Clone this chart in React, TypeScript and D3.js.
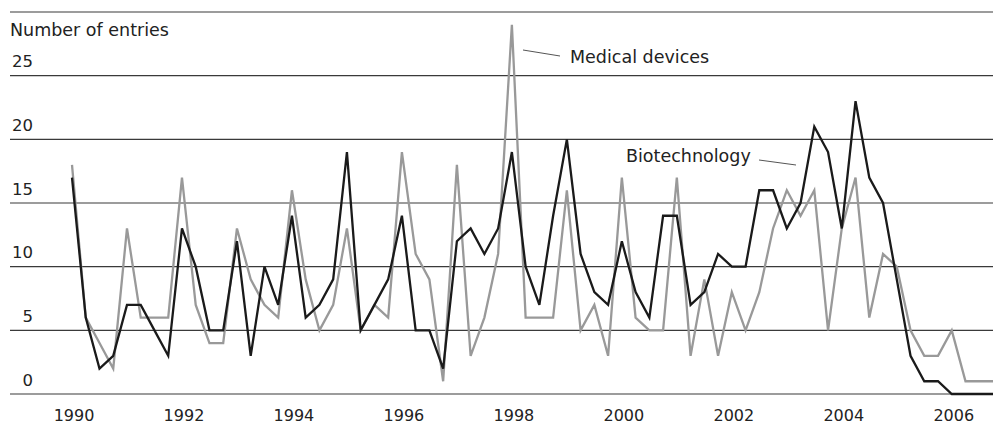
import React, { useRef, useEffect } from "react";
import { select, scaleLinear, line } from "d3";

// quarterly counts, 1990 Q1 .. 2006 Q4
const biotechnology = [
  17, 6, 2, 3, 7, 7, 5, 3, 13, 10, 5, 5, 12, 3, 10, 7, 14, 6, 7, 9,
  19, 5, 7, 9, 14, 5, 5, 2, 12, 13, 11, 13, 19, 10, 7, 14, 20, 11, 8, 7, 12, 8, 6, 14,
  14, 7, 8, 11, 10, 10, 16, 16, 13, 15, 21, 19, 13, 23, 17, 15, 9, 3, 1, 1, 0, 0, 0, 0,
];
const medicalDevices = [
  18, 6, 4, 2, 13, 6, 6, 6, 17, 7, 4, 4, 13, 9, 7, 6, 16, 9, 5, 7,
  13, 5, 7, 6, 19, 11, 9, 1, 18, 3, 6, 11, 29, 6, 6, 6, 16, 5, 7, 3, 17, 6, 5, 5,
  17, 3, 9, 3, 8, 5, 8, 13, 16, 14, 16, 5, 13, 17, 6, 11, 10, 5, 3, 3, 5, 1, 1, 1,
];
const yearTicks = [1990, 1992, 1994, 1996, 1998, 2000, 2002, 2004, 2006];
const gridValues = [0, 5, 10, 15, 20, 25, 30];
const yLabels = [0, 5, 10, 15, 20, 25];
const startYear = 1990;

const W = 1003;
const H = 428;
const font = "'DejaVu Sans', Verdana, sans-serif";

function EntriesChart() {
  const svgRef = useRef<SVGSVGElement>(null);

  useEffect(() => {
    const svg = select(svgRef.current);
    svg.selectAll("*").remove();

    const n = biotechnology.length;
    const xScale = scaleLinear()
      .domain([startYear, startYear + (n - 1) / 4])
      .range([72, 993]);
    const yScale = scaleLinear().domain([0, 30]).range([394, 12]);

    const quarterYear = (i: number) => startYear + i / 4;

    // horizontal rules
    svg
      .selectAll(".grid")
      .data(gridValues)
      .join("line")
      .attr("class", "grid")
      .attr("x1", 10)
      .attr("x2", 993)
      .attr("y1", (d) => yScale(d))
      .attr("y2", (d) => yScale(d))
      .attr("stroke", "#3a3a3a")
      .attr("stroke-width", 1.2);

    // y labels sit just above their rule
    svg
      .selectAll(".ylab")
      .data(yLabels)
      .join("text")
      .attr("class", "ylab")
      .attr("x", 33)
      .attr("y", (d) => yScale(d) - 8.5)
      .attr("text-anchor", "end")
      .attr("font-family", font)
      .attr("font-size", 16.5)
      .attr("fill", "#222")
      .text((d) => d);

    svg
      .append("text")
      .attr("x", 10)
      .attr("y", 35.5)
      .attr("font-family", font)
      .attr("font-size", 17.5)
      .attr("fill", "#222")
      .text("Number of entries");

    // x labels
    svg
      .selectAll(".xlab")
      .data(yearTicks)
      .join("text")
      .attr("class", "xlab")
      .attr("x", (d) => xScale(d) + 2)
      .attr("y", 420.5)
      .attr("text-anchor", "middle")
      .attr("font-family", font)
      .attr("font-size", 16)
      .attr("fill", "#222")
      .text((d) => d);

    const lineGenerator = line<number>()
      .x((d, i) => xScale(quarterYear(i)))
      .y((d) => yScale(d));

    svg
      .append("path")
      .datum(medicalDevices)
      .attr("fill", "none")
      .attr("stroke", "#999")
      .attr("stroke-width", 2.3)
      .attr("d", lineGenerator);

    svg
      .append("path")
      .datum(biotechnology)
      .attr("fill", "none")
      .attr("stroke", "#1a1a1a")
      .attr("stroke-width", 2.3)
      .attr("d", lineGenerator);

    // annotations with leader lines
    const notes = [
      { text: "Medical devices", x: 570, y: 63, lx1: 523, ly1: 50, lx2: 560, ly2: 56 },
      { text: "Biotechnology", x: 626, y: 162, lx1: 759, ly1: 160, lx2: 796, ly2: 165 },
    ];
    notes.forEach((d) => {
      svg
        .append("line")
        .attr("x1", d.lx1)
        .attr("y1", d.ly1)
        .attr("x2", d.lx2)
        .attr("y2", d.ly2)
        .attr("stroke", "#555")
        .attr("stroke-width", 1);
      svg
        .append("text")
        .attr("x", d.x)
        .attr("y", d.y)
        .attr("font-family", font)
        .attr("font-size", 17.5)
        .attr("fill", "#222")
        .text(d.text);
    });
  }, []);

  return <svg ref={svgRef} width={W} height={H} style={{ display: "block" }} />;
}

export default function App() {
  return (
    <div style={{ position: "absolute", left: 0, top: 0, width: W, height: H, background: "#fff" }}>
      <EntriesChart />
    </div>
  );
}
